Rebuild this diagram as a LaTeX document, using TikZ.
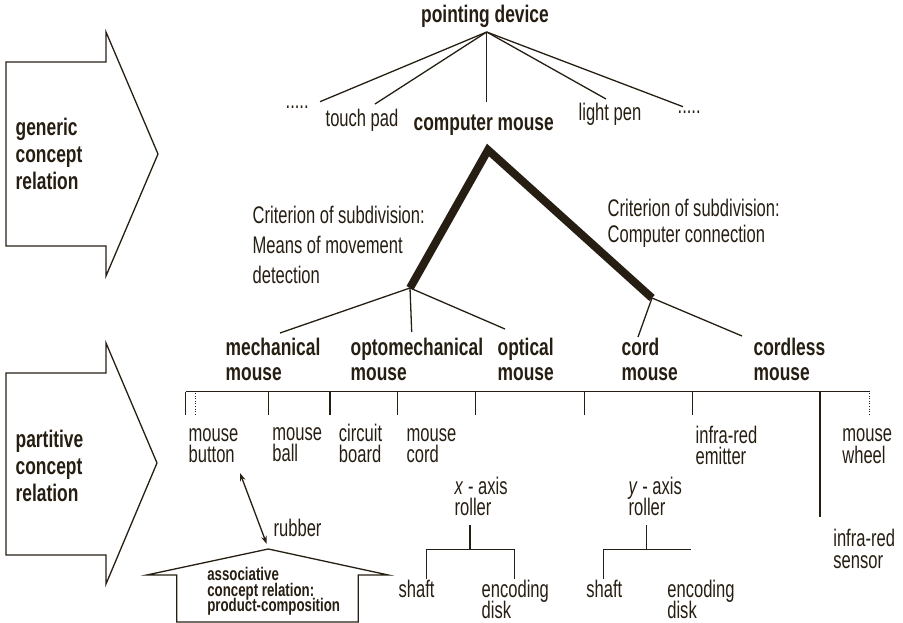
\documentclass[tikz,border=0pt]{standalone}
\usepackage{fontspec}
\setmainfont{Liberation Sans}[FakeStretch=0.69, BoldFeatures={FakeStretch=0.725}]
\usetikzlibrary{arrows.meta}
\definecolor{ink}{RGB}{38,30,18}
% left-aligned multi-line label whose reference point is the first baseline
\newcommand\stackl[1]{\vtop{\lineskiplimit=-1000pt\let\\\cr\halign{##\hfil\cr#1\crcr}}}

\begin{document}
\begin{tikzpicture}[x=1pt, y=-1pt, line width=1.3pt, draw=ink, text=ink,
  lbl/.style={inner sep=0pt, anchor=base west, font=\fontsize{24}{21.5}\selectfont},
  blbl/.style={inner sep=0pt, anchor=base west, font=\fontsize{24}{25}\selectfont\bfseries},
  side/.style={inner sep=0pt, anchor=base west, font=\fontsize{24}{27}\selectfont\bfseries},
  crit/.style={inner sep=0pt, anchor=base west, font=\fontsize{24}{30}\selectfont},
  small/.style={inner sep=0pt, anchor=base west, font=\fontsize{18.3}{15.5}\selectfont\bfseries},
  branch/.style={line width=8pt, line join=miter},
  thin/.style={line width=1.3pt},
  dotline/.style={line width=0.9pt, dash pattern=on 1pt off 1.6pt},
  relarrow/.style={line width=1.3pt, line join=miter}]
\useasboundingbox (0,0) rectangle (903,623);

% ---- relation arrows on the left ----
\draw[relarrow] (6,62) -- (106,62) -- (106,32) -- (158,154) -- (106,276) -- (106,246) -- (6,246) -- cycle;
\node[side] (gen) at (15,136) {\stackl{generic\\concept\\relation}};
\draw[relarrow] (6,373) -- (106,373) -- (106,343) -- (157,463) -- (106,584) -- (106,555) -- (6,555) -- cycle;
\node[side] (part) at (15,447) {\stackl{partitive\\concept\\relation}};

% ---- generic level ----
\node[blbl, anchor=base] (pd) at (485,23) {pointing device};
\node[lbl] (dl) at (285,109) {.....};
\node[lbl] (tp) at (325,127) {touch pad};
\node[blbl] (cm) at (413,131) {computer mouse};
\node[lbl] (lp) at (578,121) {light pen};
\node[lbl] (dr) at (677,114) {.....};

\coordinate (pdfoot) at (486.7,32);
\coordinate (dltop) at (320,101.7);
\coordinate (tptop) at (375,104);
\coordinate (cmtop) at (486.7,101.7);
\coordinate (lptop) at (606,99);
\coordinate (drtop) at (683,106.7);
\foreach \e in {dltop,tptop,cmtop,lptop,drtop}
  \draw[thin] (pdfoot) -- (\e);

% ---- criteria of subdivision ----
\coordinate (cmfoot) at (488,150);
\coordinate (movj) at (410,288);
\coordinate (conj) at (652,298);
\draw[branch] (movj) -- (cmfoot) -- (conj);
\node[crit] (critL) at (252,224) {\stackl{Criterion of subdivision:\\Means of movement\\detection}};
\node[crit, font=\fontsize{24}{27}\selectfont] (critR) at (607,216) {\stackl{Criterion of subdivision:\\Computer connection}};

% ---- specific concepts ----
\node[blbl] (mech) at (225,355) {\stackl{mechanical\\mouse}};
\node[blbl] (opto) at (350,355) {\stackl{optomechanical\\mouse}};
\node[blbl] (opt) at (497,355) {\stackl{optical\\mouse}};
\node[blbl] (cord) at (621,355) {\stackl{cord\\mouse}};
\node[blbl] (cordl) at (753,355) {\stackl{cordless\\mouse}};

\coordinate (mechtop) at (280,333);
\coordinate (optotop) at (411.7,332);
\coordinate (opttop) at (505,329);
\coordinate (cordtop) at (638,337);
\coordinate (cordltop) at (742,336);
\draw[thin] (movj) -- (mechtop);
\draw[thin] (movj) -- (optotop);
\draw[thin] (movj) -- (opttop);
\draw[thin] (conj) -- (cordtop);
\draw[thin] (conj) -- (cordltop);

% ---- parts bar ----
\coordinate (barL) at (185.7,391.7);
\coordinate (barR) at (870,391.7);
\draw[thin] (barL) -- (barR);
\draw[thin] (barL) -- (185.7,415);
\draw[dotline] (195,393) -- (195,415);
\foreach \x in {268.3,330,397.7,475.7,584.3,692.7}
  \draw[thin] (\x,391.7) -- (\x,415);
\draw[thin] (820,391.7) -- (820,517);
\draw[dotline] (869,393) -- (869,416);

\node[lbl] (mbut) at (188,441) {\stackl{mouse\\button}};
\node[lbl] (mball) at (271.7,440) {\stackl{mouse\\ball}};
\node[lbl] (cb) at (338.3,441) {\stackl{circuit\\board}};
\node[lbl] (mcord) at (406,441) {\stackl{mouse\\cord}};
\node[lbl] (ire) at (695,443) {\stackl{infra-red\\emitter}};
\node[lbl] (mw) at (841.7,441.7) {\stackl{mouse\\wheel}};
\node[lbl] (irs) at (832.7,546.7) {\stackl{infra-red\\sensor}};

% ---- rollers ----
\node[lbl] (xr) at (454,494) {\stackl{\textit{x} - axis\\roller}};
\node[lbl] (yr) at (628,494) {\stackl{\textit{y} - axis\\roller}};
\coordinate (xrfoot) at (470,525);
\coordinate (xrj) at (470,549.3);
\coordinate (yrfoot) at (646.7,525);
\coordinate (yrj) at (646.7,549.3);
\draw[thin] (xrfoot) -- (xrj);
\draw[thin] (426.7,579.3) -- (426.7,549.3) -- (514.3,549.3) -- (514.3,579.3);
\draw[thin] (yrfoot) -- (yrj);
\draw[thin] (603.3,579.3) -- (603.3,549.3) -- (691,549.3);

\node[lbl] (xshaft) at (398,597) {shaft};
\node[lbl] (xenc) at (481,597) {\stackl{encoding\\disk}};
\node[lbl] (yshaft) at (585.7,597) {shaft};
\node[lbl] (yenc) at (666.7,597) {\stackl{encoding\\disk}};

% ---- associative relation ----
\draw[relarrow] (176.7,622) -- (176.7,575) -- (146.7,575) -- (268.3,549) -- (388.3,575) -- (358.3,575) -- (358.3,622) -- cycle;
\node[small] (assoc) at (206.7,580.7) {\stackl{associative\\concept relation:\\product-composition}};
\coordinate (mbutfoot) at (240,473);
\coordinate (houseapex) at (266.7,544);
\draw[thin, {Stealth[length=8pt,width=5.5pt]}-{Stealth[length=8pt,width=5.5pt]}] (mbutfoot) -- (houseapex);
\node[lbl] (rub) at (273,536) {rubber};
\end{tikzpicture}
\end{document}
